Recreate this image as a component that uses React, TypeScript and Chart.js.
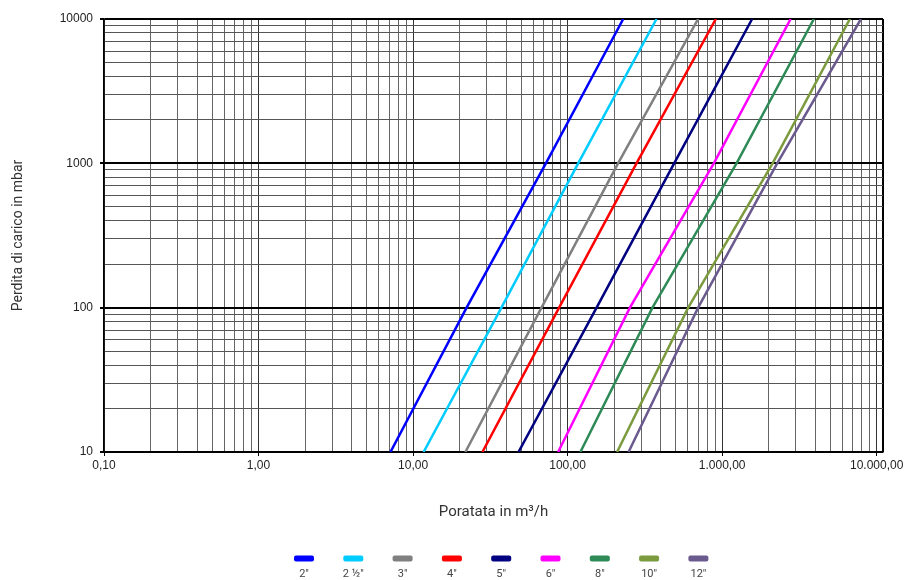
import React, { useEffect, useRef } from 'react';
import { Chart, registerables } from 'chart.js';

Chart.register(...registerables);

// ---- data ----
const pressureMbar = [10, 100, 1000, 10000];
const sizeLabels = ['2"', '2 ½"', '3"', '4"', '5"', '6"', '8"', '10"', '12"'];
const flow2 = [7.14, 22.2, 72.3, 229];
const flow2half = [11.7, 37.3, 117, 376];
const flow3 = [21.8, 67.8, 212, 699];
const flow4 = [28.1, 88.1, 279, 910];
const flow5 = [48.1, 154, 489, 1563];
const flow6 = [86.8, 253, 883, 2773];
const flow8 = [121, 354, 1239, 3922];
const flow10 = [209, 603, 2120, 6707];
const flow12 = [248, 699, 2270, 7904];
const seriesColors = ['#0000FF', '#00CCFF', '#808080', '#FF0000', '#000080', '#FF00FF', '#2E8B57', '#7C9A3E', '#6A5A8E'];
const xTickValues = [0.1, 1, 10, 100, 1000, 10000];
const xTickLabels = ['0,10', '1,00', '10,00', '100,00', '1.000,00', '10.000,00'];
const yTickValues = [10, 100, 1000, 10000];
const yTickLabels = ['10', '100', '1000', '10000'];
const xAxisTitle = 'Poratata in m³/h';
const yAxisTitle = 'Perdita di carico in mbar';

const allFlows = [flow2, flow2half, flow3, flow4, flow5, flow6, flow8, flow10, flow12];

const X_MIN = 0.1;
const X_MAX = 10985;
const Y_MIN = 10;
const Y_MAX = 10000;

const isClose = (a: number, b: number) => Math.abs(a - b) / b < 1e-6;
const isPow10 = (v: number) => {
  const l = Math.log10(v);
  return Math.abs(l - Math.round(l)) < 1e-6;
};

function logGridTicks(min: number, max: number) {
  const out: { value: number }[] = [];
  const e0 = Math.floor(Math.log10(min) + 1e-9);
  const e1 = Math.ceil(Math.log10(max) - 1e-9);
  for (let e = e0; e <= e1; e++) {
    for (let m = 1; m <= 9; m++) {
      const v = parseFloat((m * Math.pow(10, e)).toPrecision(6));
      if (v >= min * (1 - 1e-9) && v <= max * (1 + 1e-9)) out.push({ value: v });
    }
  }
  if (!out.some((t) => isClose(t.value, max))) out.push({ value: max });
  return out;
}

const LEGEND_START = 304;
const LEGEND_STEP = 49.3;

const legendPlugin = {
  id: 'bottomLegend',
  afterDraw(chart: any) {
    const ctx = chart.ctx as CanvasRenderingContext2D;
    ctx.save();
    sizeLabels.forEach((lab, i) => {
      const cx = LEGEND_START + i * LEGEND_STEP;
      ctx.fillStyle = seriesColors[i];
      ctx.beginPath();
      (ctx as any).roundRect(cx - 10, 555.5, 20, 6, 2);
      ctx.fill();
      ctx.fillStyle = '#444';
      ctx.font = '11px Roboto';
      ctx.textAlign = 'center';
      ctx.textBaseline = 'middle';
      ctx.fillText(lab, cx, 574);
    });
    ctx.restore();
  },
};

export default function App() {
  const canvasRef = useRef<HTMLCanvasElement | null>(null);

  useEffect(() => {
    if (!canvasRef.current) return;
    const datasets = allFlows.map((flows, i) => ({
      label: sizeLabels[i],
      data: flows.map((q, j) => ({ x: q, y: pressureMbar[j] })),
      borderColor: seriesColors[i],
      backgroundColor: seriesColors[i],
      borderWidth: 2.5,
      pointRadius: 0,
      showLine: true,
      fill: false,
    }));

    const chart = new Chart(canvasRef.current, {
      type: 'scatter',
      data: { datasets },
      options: {
        responsive: false,
        animation: false,
        layout: { padding: { top: 19, right: 27, left: 0, bottom: 0 } },
        plugins: {
          legend: { display: false },
          tooltip: { enabled: false },
        },
        scales: {
          x: {
            type: 'logarithmic',
            min: X_MIN,
            max: X_MAX,
            afterBuildTicks: (scale: any) => {
              scale.ticks = logGridTicks(X_MIN, X_MAX);
            },
            afterFit: (scale: any) => {
              scale.height = 128;
            },
            border: { display: true, color: '#000', width: 1.5 },
            grid: {
              drawTicks: true,
              tickLength: 4,
              color: (c: any) => {
                const v = c.tick?.value;
                if (v === undefined) return '#555';
                if (isClose(v, X_MAX)) return '#000';
                if (isPow10(v)) return '#333';
                return '#666';
              },
              lineWidth: (c: any) => {
                const v = c.tick?.value;
                if (v !== undefined && isClose(v, X_MAX)) return 2;
                return 1;
              },
              tickColor: (c: any) => {
                const v = c.tick?.value;
                if (v !== undefined && !isClose(v, X_MAX) && isPow10(v)) return '#000';
                return 'rgba(0,0,0,0)';
              },
            },
            ticks: {
              autoSkip: false,
              maxRotation: 0,
              padding: 2,
              color: '#222',
              font: { family: 'Liberation Sans', size: 12 },
              callback: (value: any) => {
                const v = Number(value);
                const idx = xTickValues.findIndex((t) => isClose(v, t));
                return idx >= 0 ? xTickLabels[idx] : '';
              },
            },
            title: {
              display: true,
              text: xAxisTitle,
              color: '#333',
              font: { family: 'Roboto', size: 15 },
              padding: { top: 0, bottom: 59 },
            },
          },
          y: {
            type: 'logarithmic',
            min: Y_MIN,
            max: Y_MAX,
            afterBuildTicks: (scale: any) => {
              scale.ticks = logGridTicks(Y_MIN, Y_MAX);
            },
            afterFit: (scale: any) => {
              scale.width = 104;
            },
            border: { display: true, color: '#000', width: 1.5 },
            grid: {
              drawTicks: true,
              tickLength: 4,
              color: (c: any) => {
                const v = c.tick?.value;
                if (v !== undefined && isPow10(v)) return '#000';
                return '#555';
              },
              lineWidth: (c: any) => {
                const v = c.tick?.value;
                if (v !== undefined && isPow10(v)) return 2;
                return 1;
              },
              tickColor: (c: any) => {
                const v = c.tick?.value;
                if (v !== undefined && isPow10(v)) return '#000';
                return 'rgba(0,0,0,0)';
              },
            },
            ticks: {
              autoSkip: false,
              padding: 7,
              color: '#222',
              font: { family: 'Liberation Sans', size: 12 },
              callback: (value: any) => {
                const v = Number(value);
                const idx = yTickValues.findIndex((t) => isClose(v, t));
                return idx >= 0 ? yTickLabels[idx] : '';
              },
            },
            title: {
              display: true,
              text: yAxisTitle,
              color: '#333',
              font: { family: 'Roboto', size: 14 },
              padding: { top: 10, bottom: 0 },
            },
          },
        },
      },
      plugins: [legendPlugin],
    } as any);

    return () => chart.destroy();
  }, []);

  return (
    <div style={{ position: 'absolute', left: 0, top: 0, width: 910, height: 580, background: '#fff' }}>
      <canvas ref={canvasRef} width={910} height={580} style={{ display: 'block' }} />
    </div>
  );
}
